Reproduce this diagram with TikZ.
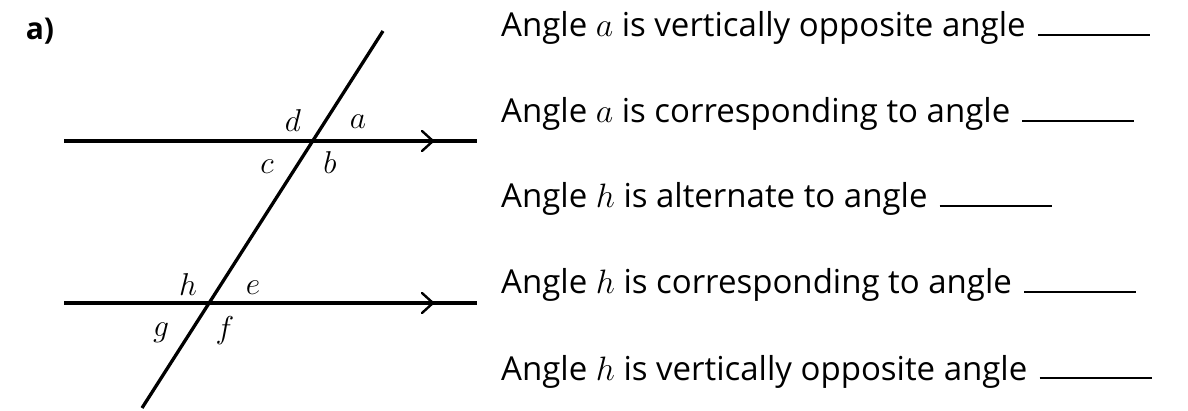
\RequirePackage{fix-cm}
\documentclass[tikz,border=0pt]{standalone}
\usepackage{graphicx}
\usepackage{fontspec}
\setmainfont{Open Sans}
\newcommand\mvar[2]{{\fontsize{24.88}{30}\selectfont\scalebox{#1}{$#2$}}}
\newcommand\lbl[1]{\mvar{1.27}{#1}}
\newcommand\ivar[1]{\mvar{1.36}{#1}}
\tikzset{
  geoline/.style={line width=3.6pt, line cap=butt},
  chevron/.style={line width=2.4pt, line cap=round, line join=miter},
  anglelbl/.style={inner sep=0pt},
  stmt/.style={anchor=base west, inner sep=0pt, font=\fontsize{33}{36}\selectfont},
  blank/.style={line width=1.6pt},
}
\begin{document}
\begin{tikzpicture}[x=1pt,y=-1pt]
\useasboundingbox (0,0) rectangle (1188,411);
% part label
\node[inner sep=0pt, font=\fontsize{30}{34}\selectfont\bfseries] (part) at (40,31) {a)};
% parallel lines
\coordinate (L1a) at (64,141);  \coordinate (L1b) at (477,141);
\coordinate (L2a) at (64,303);  \coordinate (L2b) at (477,303);
\draw[geoline] (L1a) -- (L1b);
\draw[geoline] (L2a) -- (L2b);
% arrow chevrons
\coordinate (A1) at (433,141); \coordinate (A2) at (433,303);
\draw[chevron] ([shift={(-11,-10)}]A1) -- (A1) -- ([shift={(-11,10)}]A1);
\draw[chevron] ([shift={(-11,-10)}]A2) -- (A2) -- ([shift={(-11,10)}]A2);
% transversal
\coordinate (T1) at (383,31); \coordinate (T2) at (142,408);
\draw[geoline, line width=3.3pt] (T1) -- (T2);
% angle labels
\node[anglelbl] (d) at (293,121) {\lbl{d}};
\node[anglelbl] (a) at (358,122) {\lbl{a}};
\node[anglelbl] (c) at (267,167) {\lbl{c}};
\node[anglelbl] (b) at (330,163) {\lbl{b}};
\node[anglelbl] (h) at (188,285) {\lbl{h}};
\node[anglelbl] (e) at (253,288) {\lbl{e}};
\node[anglelbl] (g) at (161,333) {\lbl{g}};
\node[anglelbl] (f) at (225,331) {\lbl{f}};
% statements
\node[stmt] (s1) at (501,37)  {Angle \ivar{a} is vertically opposite angle};
\node[stmt] (s2) at (501,123) {Angle \ivar{a} is corresponding to angle};
\node[stmt] (s3) at (501,208) {Angle \ivar{h} is alternate to angle};
\node[stmt] (s4) at (501,294) {Angle \ivar{h} is corresponding to angle};
\node[stmt] (s5) at (501,380) {Angle \ivar{h} is vertically opposite angle};
\foreach \s in {s1,s2,s3,s4,s5}{
  \draw[blank] ([shift={(12,-2)}]\s.base east) -- ++(112,0);
}
\end{tikzpicture}
\end{document}
